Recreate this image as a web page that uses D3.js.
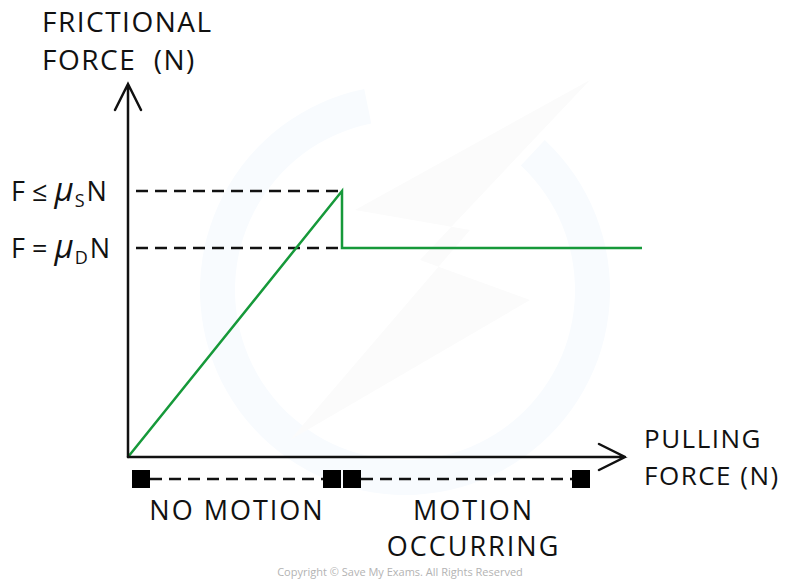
<!DOCTYPE html>
<html>
<head>
<meta charset="utf-8">
<script src="https://cdn.jsdelivr.net/npm/d3@7"></script>
<style>
  body { margin: 0; background: #fff; }
  text { font-family: "Open Sans", sans-serif; fill: #111; white-space: pre; }
</style>
</head>
<body>
<div id="chart-target"></div>
<script>
// chart values (arbitrary units, origin at 0,0)
var frictionX = [0, 4.28, 4.28, 10.28];          // pulling force
var frictionY = [0, 7.13, 5.6, 5.6];              // frictional force
var levelNames = ["static", "dynamic"];
var levelValues = [7.13, 5.6];
var levelLabels = [
  { pre: "F \u2264 ", mu: "\u03bc", sub: "S", post: "N" },
  { pre: "F = ", mu: "\u03bc", sub: "D", post: "N" }
];
var regionLabels = [["NO MOTION"], ["MOTION", "OCCURRING"]];
var regionStart = [0, 4.28];
var regionEnd = [4.28, 9.26];
var yTitle = ["FRICTIONAL", "FORCE  (N)"];
var xTitle = ["PULLING", "FORCE (N)"];

var width = 789,
    height = 579;

var svg = d3.select('#chart-target').append('svg')
  .attr('width', width)
  .attr('height', height);

var x = d3.scaleLinear().domain([0, 10]).range([128, 628]);
var y = d3.scaleLinear().domain([0, 10]).range([457, 84]);

// faint watermark ring in the background
var ring = d3.arc()
  .innerRadius(170)
  .outerRadius(205)
  .startAngle(0.75)
  .endAngle(2 * Math.PI - 0.2);
svg.append('path')
  .attr('transform', 'translate(405,290)')
  .attr('d', ring())
  .attr('fill', '#f8fbfe');

svg.append('path')
  .attr('d', 'M590,80 L420,260 L530,300 L290,440 L470,230 L355,210 Z')
  .attr('fill', '#fbfbfb');

// dashed guide lines for static / dynamic friction
svg.selectAll('.level-line')
  .data(levelValues)
  .enter().append('line')
  .attr('class', 'level-line')
  .attr('x1', x(0) + 8)
  .attr('x2', x(frictionX[1]))
  .attr('y1', (d) => y(d))
  .attr('y2', (d) => y(d))
  .attr('stroke', '#111')
  .attr('stroke-width', 2.5)
  .attr('stroke-dasharray', '12,7');

// level labels
var lvl = svg.selectAll('.level-label')
  .data(levelLabels)
  .enter().append('text')
  .attr('class', 'level-label')
  .attr('x', 11)
  .attr('y', (d, i) => y(levelValues[i]) + 10)
  .style('font-size', '27px');
lvl.append('tspan').text((d) => d.pre);
lvl.append('tspan').text((d) => d.mu)
  .style('font-style', 'italic')
  .style('font-size', '33px');
lvl.append('tspan').text((d) => d.sub)
  .attr('dy', 6)
  .attr('dx', 1)
  .style('font-size', '18px');
lvl.append('tspan').text((d) => d.post)
  .attr('dy', -6)
  .attr('dx', 2);

// friction curve
var line = d3.line()
  .x((d) => x(d[0]))
  .y((d) => y(d[1]));
svg.append('path')
  .datum(d3.zip(frictionX, frictionY))
  .attr('d', line)
  .attr('fill', 'none')
  .attr('stroke', '#16993a')
  .attr('stroke-width', 2.5)
  .attr('stroke-linejoin', 'miter');

// axes with open arrowheads
var axes = svg.append('g')
  .attr('fill', 'none')
  .attr('stroke', '#111')
  .attr('stroke-width', 2.5)
  .attr('stroke-linecap', 'round');
axes.append('path')
  .attr('d', `M${x(0)},${y(0)} V${y(10)} M${x(0) - 13},${y(10) + 26} L${x(0)},${y(10)} L${x(0) + 13},${y(10) + 26}`);
axes.append('path')
  .attr('d', `M${x(0)},${y(0)} H${x(9.94)} M${x(9.94) - 26},${y(0) - 13} L${x(9.94)},${y(0)} L${x(9.94) - 26},${y(0) + 13}`);

// axis titles
svg.append('g').selectAll('text')
  .data(yTitle)
  .enter().append('text')
  .attr('x', 42)
  .attr('y', (d, i) => 32 + i * 38)
  .style('font-size', '28px')
  .style('letter-spacing', '1.5px')
  .text((d) => d);

svg.append('g').selectAll('text')
  .data(xTitle)
  .enter().append('text')
  .attr('x', 644)
  .attr('y', (d, i) => 448 + i * 37)
  .style('font-size', '26px')
  .style('letter-spacing', '1.5px')
  .text((d) => d);

// motion regions below the x axis
var bandY = 479,
    sq = 18;
regionStart.forEach((s, i) => {
  var x0 = x(s) + (i === 0 ? 4 : 1),
      x1 = x(regionEnd[i]) - 1;
  svg.append('line')
    .attr('x1', x0 + sq)
    .attr('x2', x1 - sq)
    .attr('y1', bandY)
    .attr('y2', bandY)
    .attr('stroke', '#111')
    .attr('stroke-width', 2.5)
    .attr('stroke-dasharray', '12,7');
  svg.append('rect')
    .attr('x', x0).attr('y', bandY - sq / 2)
    .attr('width', sq).attr('height', sq)
    .attr('fill', '#000');
  svg.append('rect')
    .attr('x', x1 - sq).attr('y', bandY - sq / 2)
    .attr('width', sq).attr('height', sq)
    .attr('fill', '#000');

  svg.append('g').selectAll('text')
    .data(regionLabels[i])
    .enter().append('text')
    .attr('x', (x(s) + x(regionEnd[i])) / 2 + (i === 0 ? 2 : 7))
    .attr('y', (d, j) => 520 + j * 36)
    .attr('text-anchor', 'middle')
    .style('font-size', '27px')
    .style('letter-spacing', '2px')
    .text((d) => d);
});

svg.append('text')
  .attr('x', 400)
  .attr('y', 576)
  .attr('text-anchor', 'middle')
  .style('font-size', '11px')
  .style('fill', '#b3b3b3')
  .text('Copyright \u00a9 Save My Exams. All Rights Reserved');
</script>
</body>
</html>
